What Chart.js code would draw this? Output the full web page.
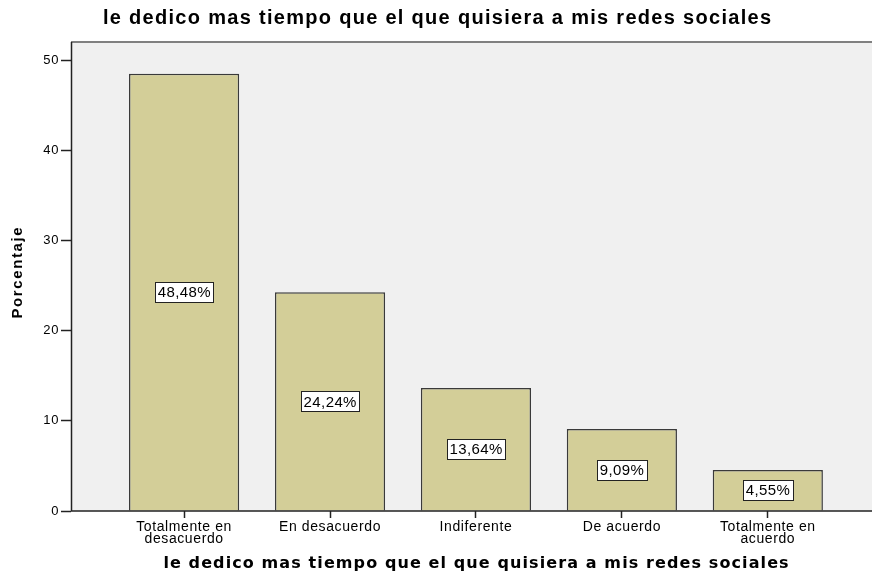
<!DOCTYPE html>
<html>
<head>
<meta charset="utf-8">
<script src="https://cdn.jsdelivr.net/npm/chart.js@4"></script>
<style>
html,body{margin:0;padding:0;background:#fff;}
#wrap{width:872px;height:579px;position:relative;}
</style>
</head>
<body>
<div id="wrap"><canvas id="c" width="872" height="579"></canvas></div>
<script>
const categories = [["Totalmente en","desacuerdo"],["En desacuerdo"],["Indiferente"],["De acuerdo"],["Totalmente en","acuerdo"]];
const values = [48.48, 24.24, 13.64, 9.09, 4.55];
const valueLabels = ["48,48%", "24,24%", "13,64%", "9,09%", "4,55%"];
const yTicks = [0, 10, 20, 30, 40, 50];
const titleText = "le dedico mas tiempo que el que quisiera a mis redes sociales";
const xTitleText = "le dedico mas tiempo que el que quisiera a mis redes sociales";
const yTitleText = "Porcentaje";

const PLOT_LEFT = 71, PLOT_TOP = 42, PLOT_BOTTOM = 511;

function spacedText(ctx, text, x, y, spacing) {
  ctx.letterSpacing = spacing + 'px';
  ctx.fillText(text, x + spacing / 2, y);
  ctx.letterSpacing = '0px';
}

const bgPlugin = {
  id: 'bgPlugin',
  beforeDraw(chart) {
    const {ctx, chartArea: a} = chart;
    ctx.save();
    ctx.fillStyle = '#f0f0f0';
    ctx.fillRect(a.left, a.top, a.right - a.left, a.bottom - a.top);
    ctx.strokeStyle = '#808080';
    ctx.lineWidth = 2;
    ctx.beginPath();
    ctx.moveTo(a.left, a.top);
    ctx.lineTo(a.right, a.top);
    ctx.stroke();
    ctx.restore();
  },
  afterDraw(chart) {
    const {ctx, chartArea: a} = chart;
    ctx.save();
    ctx.letterSpacing = '0px';
    // axes lines
    ctx.strokeStyle = '#222';
    ctx.lineWidth = 1.5;
    ctx.beginPath();
    ctx.moveTo(a.left + 0.5, a.top);
    ctx.lineTo(a.left + 0.5, a.bottom);
    ctx.lineTo(a.right, a.bottom);
    ctx.stroke();
    // value labels
    const meta = chart.getDatasetMeta(0);
    ctx.font = '15px "Liberation Sans", Arial, sans-serif';
    ctx.textAlign = 'center';
    ctx.textBaseline = 'middle';
    meta.data.forEach((bar, i) => {
      const cx = bar.x;
      const cy = (bar.y + bar.base) / 2;
      const t = valueLabels[i];
      ctx.letterSpacing = '0.4px';
      const w = Math.round(ctx.measureText(t).width + 5);
      ctx.letterSpacing = '0px';
      const h = 20;
      const bx = Math.round(cx - w / 2) + 0.5, by = Math.round(cy - h / 2) + 0.5;
      ctx.fillStyle = '#fff';
      ctx.fillRect(bx, by, w, h);
      ctx.strokeStyle = '#222';
      ctx.lineWidth = 1;
      ctx.strokeRect(bx, by, w, h);
      ctx.fillStyle = '#000';
      spacedText(ctx, t, cx, cy + 1, 0.4);
    });
    // titles
    ctx.fillStyle = '#000';
    ctx.font = 'bold 20px "Liberation Sans", Arial, sans-serif';
    ctx.textBaseline = 'middle';
    spacedText(ctx, titleText, 437, 18, 1.3);
    ctx.font = 'bold 16px "DejaVu Sans", Verdana, sans-serif';
    spacedText(ctx, xTitleText, 476, 564, 1.1);
    ctx.save();
    ctx.translate(18, 273);
    ctx.rotate(-Math.PI / 2);
    ctx.font = 'bold 15px "Liberation Sans", Arial, sans-serif';
    spacedText(ctx, yTitleText, 0, 0, 1.6);
    ctx.restore();
    ctx.restore();
  }
};

const tickSpacingPlugin = {
  id: 'tickSpacing',
  beforeDraw(chart) { chart.ctx.letterSpacing = '0.6px'; },
  afterDraw(chart) { chart.ctx.letterSpacing = '0px'; }
};

new Chart(document.getElementById('c'), {
  type: 'bar',
  data: {
    datasets: [{
      data: values.map((v, i) => ({x: i, y: v})),
      backgroundColor: '#d3ce98',
      borderColor: '#3a3a3a',
      borderWidth: 1.5,
      borderSkipped: 'bottom',
      barPercentage: 0.755,
      categoryPercentage: 1
    }]
  },
  plugins: [tickSpacingPlugin, bgPlugin],
  options: {
    responsive: false,
    animation: false,
    events: [],
    layout: { padding: { top: PLOT_TOP, left: 0, right: 0, bottom: 28 } },
    plugins: { legend: { display: false }, tooltip: { enabled: false }, title: { display: false } },
    scales: {
      x: {
        type: 'linear',
        offset: false,
        min: -0.775,
        max: 4.714,
        afterBuildTicks(scale) { scale.ticks = categories.map((c, i) => ({value: i})); },
        afterFit(scale) { scale.height = 40; },
        grid: { display: true, offset: false, drawOnChartArea: false, drawTicks: true, tickLength: 7, tickColor: '#222', tickWidth: 1.5 },
        border: { display: false },
        ticks: {
          autoSkip: false,
          maxRotation: 0,
          padding: 4,
          color: '#000',
          font: { family: '"Liberation Sans", Arial, sans-serif', size: 14, lineHeight: 0.8 },
          callback: (v) => categories[v] || ''
        }
      },
      y: {
        min: 0,
        max: 52,
        afterBuildTicks(scale) { scale.ticks = yTicks.map(v => ({value: v})); },
        afterFit(scale) { scale.width = PLOT_LEFT; },
        grid: { display: true, drawOnChartArea: false, drawTicks: true, tickLength: 10, tickColor: '#222', tickWidth: 1.5 },
        border: { display: false },
        ticks: {
          padding: 2,
          color: '#000',
          font: { family: '"Liberation Sans", Arial, sans-serif', size: 13 }
        }
      }
    }
  }
});
</script>
</body>
</html>
